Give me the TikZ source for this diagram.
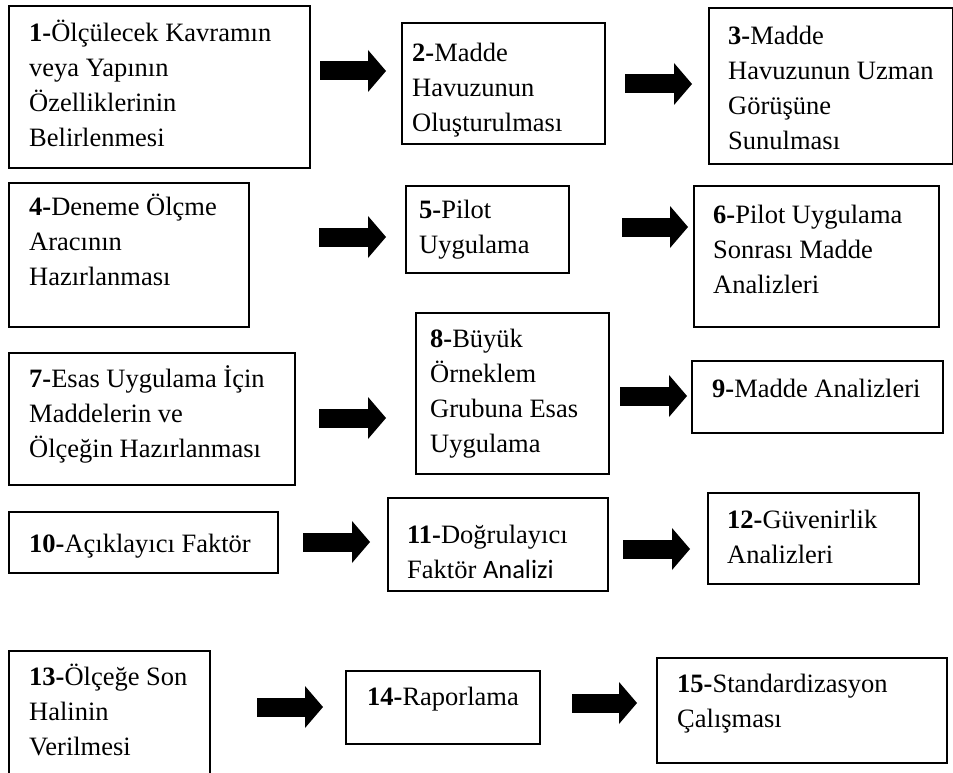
\documentclass[tikz,border=0pt]{standalone}
\usepackage{fontspec}
\setmainfont{Liberation Serif}
\newfontfamily\calibri{Carlito}
\usetikzlibrary{arrows.meta}

\newcommand{\stepnum}[1]{\textbf{#1-}}
\newcommand{\boxtext}[1]{\begin{tabular}[t]{@{}l@{}}#1\end{tabular}}

\tikzset{
  stepbox/.style={draw, line width=1.8pt, anchor=north west, inner sep=0pt},
  steptext/.style={anchor=base west, inner sep=0pt, font=\fontsize{26.5}{35}\selectfont},
  fatarrow/.style={line width=19pt, -{Triangle[length=18pt,width=42pt,line width=0pt]}},
}

\begin{document}
\begin{tikzpicture}[x=1pt,y=-1pt]
        \clip (0,0) rectangle (953,773);

        % row 1
        \node[stepbox, minimum width=301pt, minimum height=162pt] (b1) at (8,5) {};
        \node[steptext] (t1) at ([shift={(21,37)}]b1.north west)
          {\boxtext{\stepnum{1}Ölçülecek Kavramın\\veya Yapının\\Özelliklerinin\\Belirlenmesi}};
        \node[stepbox, minimum width=203pt, minimum height=121pt] (b2) at (401,22) {};
        \node[steptext] (t2) at ([shift={(11,40)}]b2.north west)
          {\boxtext{\stepnum{2}Madde\\Havuzunun\\Oluşturulması}};
        \node[stepbox, minimum width=244pt, minimum height=156pt] (b3) at (708,7) {};
        \node[steptext] (t3) at ([shift={(20,38)}]b3.north west)
          {\boxtext{\stepnum{3}Madde\\Havuzunun Uzman\\Görüşüne\\Sunulması}};

        % row 2
        \node[stepbox, minimum width=240pt, minimum height=144pt] (b4) at (8,182) {};
        \node[steptext] (t4) at ([shift={(21,33)}]b4.north west)
          {\boxtext{\stepnum{4}Deneme Ölçme\\Aracının\\Hazırlanması}};
        \node[stepbox, minimum width=163pt, minimum height=87pt] (b5) at (405,185) {};
        \node[steptext] (t5) at ([shift={(14,33)}]b5.north west)
          {\boxtext{\stepnum{5}Pilot\\Uygulama}};
        \node[stepbox, minimum width=245pt, minimum height=141pt] (b6) at (693,185) {};
        \node[steptext] (t6) at ([shift={(20,38)}]b6.north west)
          {\boxtext{\stepnum{6}Pilot Uygulama\\Sonrası Madde\\Analizleri}};

        % row 3
        \node[stepbox, minimum width=286pt, minimum height=132pt] (b7) at (8,352) {};
        \node[steptext] (t7) at ([shift={(21,35)}]b7.north west)
          {\boxtext{\stepnum{7}Esas Uygulama İçin\\Maddelerin ve\\Ölçeğin Hazırlanması}};
        \node[stepbox, minimum width=193pt, minimum height=161pt] (b8) at (415,312) {};
        \node[steptext] (t8) at ([shift={(15,35)}]b8.north west)
          {\boxtext{\stepnum{8}Büyük\\Örneklem\\Grubuna Esas\\Uygulama}};
        \node[stepbox, minimum width=251pt, minimum height=72pt] (b9) at (691,360) {};
        \node[steptext] (t9) at ([shift={(21,37)}]b9.north west)
          {\boxtext{\stepnum{9}Madde Analizleri}};

        % row 4
        \node[stepbox, minimum width=269pt, minimum height=61pt] (b10) at (8,511) {};
        \node[steptext] (t10) at ([shift={(21,41)}]b10.north west)
          {\boxtext{\stepnum{10}Açıklayıcı Faktör}};
        \node[stepbox, minimum width=220pt, minimum height=93pt] (b11) at (387,497) {};
        \node[steptext] (t11) at ([shift={(20,46)}]b11.north west)
          {\boxtext{\stepnum{11}Doğrulayıcı\\Faktör {\calibri Analizi}}};
        \node[stepbox, minimum width=211pt, minimum height=91pt] (b12) at (707,492) {};
        \node[steptext] (t12) at ([shift={(20,36)}]b12.north west)
          {\boxtext{\stepnum{12}Güvenirlik\\Analizleri}};

        % row 5
        \node[stepbox, minimum width=201pt, minimum height=140pt] (b13) at (8,650) {};
        \node[steptext] (t13) at ([shift={(21,35)}]b13.north west)
          {\boxtext{\stepnum{13}Ölçeğe Son\\Halinin\\Verilmesi}};
        \node[stepbox, minimum width=194pt, minimum height=73pt] (b14) at (345,670) {};
        \node[steptext] (t14) at ([shift={(22,35)}]b14.north west)
          {\boxtext{\stepnum{14}Raporlama}};
        \node[stepbox, minimum width=290pt, minimum height=105pt] (b15) at (656,657) {};
        \node[steptext] (t15) at ([shift={(21,35)}]b15.north west)
          {\boxtext{\stepnum{15}Standardizasyon\\Çalışması}};

        % block arrows
        \foreach \n/\xs/\xe/\y in {1/320/386/71, 2/625/692/84, 3/319/386/237, 4/622/688/227,
                                   5/319/386/418, 6/620/687/396, 9/303/370/542, 10/623/690/549,
                                   7/257/323/707, 8/572/637/703} {
          \coordinate (a\n s) at (\xs,\y);
          \coordinate (a\n e) at (\xe,\y);
          \draw[fatarrow] (a\n s) -- (a\n e);
        }
      \end{tikzpicture}
\end{document}
